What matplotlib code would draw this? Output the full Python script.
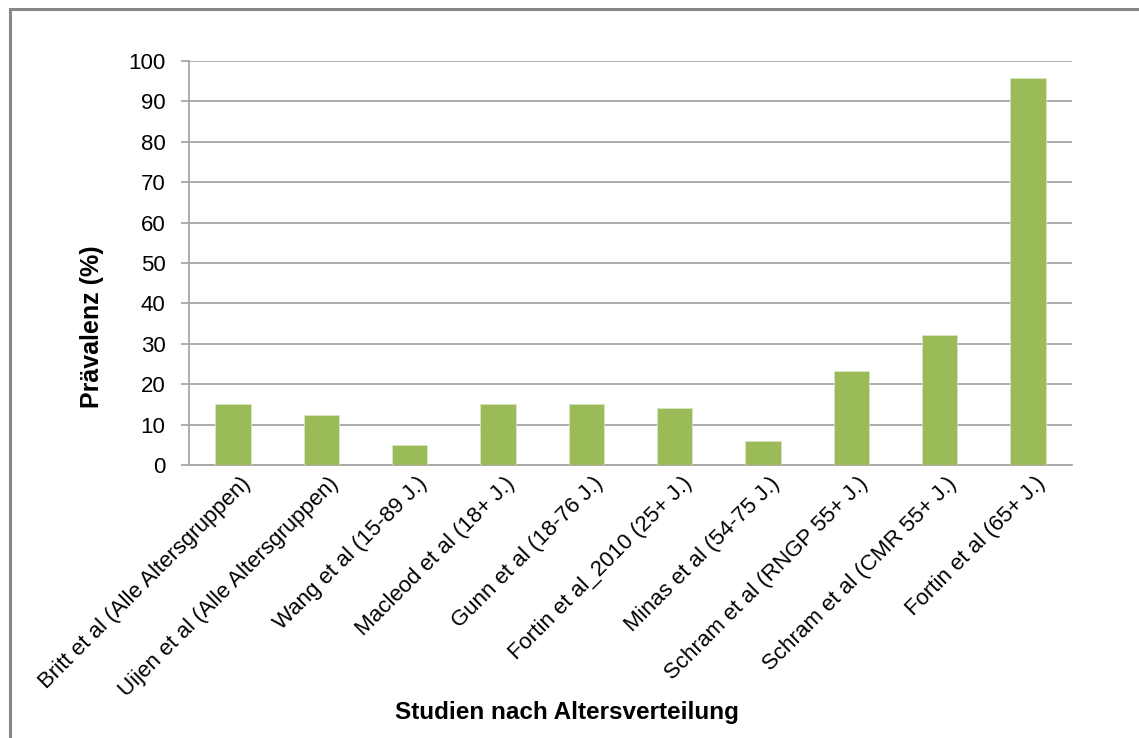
import matplotlib
matplotlib.use("Agg")
import matplotlib.pyplot as plt
from matplotlib.patches import Rectangle
from matplotlib.transforms import ScaledTranslation

plt.rcParams['font.family'] = ['Liberation Sans', 'DejaVu Sans']

categories = [
    "Britt et al (Alle Altersgruppen)",
    "Uijen et al (Alle Altersgruppen)",
    "Wang et al (15-89 J.)",
    "Macleod et al (18+ J.)",
    "Gunn et al (18-76 J.)",
    "Fortin et al_2010 (25+ J.)",
    "Minas et al (54-75 J.)",
    "Schram et al (RNGP 55+ J.)",
    "Schram et al (CMR 55+ J.)",
    "Fortin et al (65+ J.)",
]
values = [15, 12.5, 5, 15, 15, 14.2, 5.9, 23.3, 32.2, 95.7]
yticks = list(range(0, 101, 10))

W, H = 1139, 738
fig = plt.figure(figsize=(W / 100, H / 100), dpi=100)
ax = fig.add_axes([189 / W, 1 - 465 / H, (1072 - 189) / W, (465 - 61) / H])

x = list(range(len(categories)))
ax.bar(x, values, width=0.4, color='#9BBB59', edgecolor='#D7E4BD', linewidth=0.6, zorder=3)

ax.set_xlim(-0.5, len(categories) - 0.5)
ax.set_ylim(0, 100)
ax.set_yticks(yticks)
ax.set_yticklabels([str(t) for t in yticks], fontsize=16)
ax.yaxis.grid(True, color='#A6A6A6', linewidth=1.3, zorder=0)
ax.set_axisbelow(True)
for s in ['top', 'right']:
    ax.spines[s].set_visible(False)
ax.spines['left'].set_color('#A6A6A6')
ax.spines['bottom'].set_color('#A6A6A6')
ax.spines['left'].set_linewidth(1.3)
ax.spines['bottom'].set_linewidth(1.3)
ax.tick_params(axis='y', length=6, color='#A6A6A6', width=1.3, pad=11)
ax.tick_params(axis='x', length=0, pad=4)

ax.set_xticks(x)
ax.set_xticklabels(categories, rotation=45, ha='right', va='center',
                   rotation_mode='anchor', fontsize=16)
off = ScaledTranslation(14 / 100, -10 / 100, fig.dpi_scale_trans)
for lab in ax.get_xticklabels():
    lab.set_transform(lab.get_transform() + off)

fig.text(92 / W, 1 - 327 / H, "Prävalenz (%)", fontsize=18, fontweight='bold',
         rotation=90, ha='center', va='center')
fig.text(567 / W, 1 - 713 / H, "Studien nach Altersverteilung", fontsize=17.5,
         fontweight='bold', ha='center', va='center')

fig.patches.append(Rectangle((9.5 / W, -0.1), 1.2, (1 - 9.5 / H) + 0.1,
                             transform=fig.transFigure, fill=False,
                             edgecolor='#878787', linewidth=2.2, clip_on=False))

fig.savefig("out.png", dpi=100)
